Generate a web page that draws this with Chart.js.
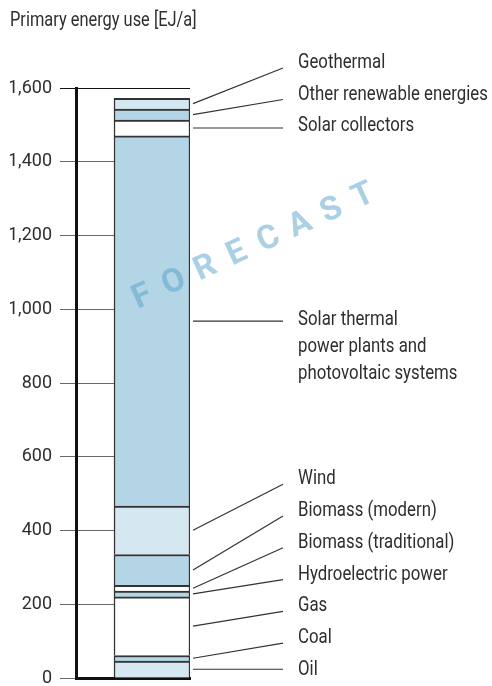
<!DOCTYPE html>
<html>
<head>
<meta charset="utf-8">
<title>Primary energy use</title>
<script src="https://cdn.jsdelivr.net/npm/chart.js@4.4.1/dist/chart.umd.min.js"></script>
<style>
  html, body { margin: 0; padding: 0; background: #fff; }
  #wrap { position: relative; width: 492px; height: 686px; }
</style>
</head>
<body>
<div id="wrap"><canvas id="energyChart"></canvas></div>
<script>
// Primary energy use forecast - one stacked column with labelled segments

// Data (bottom to top)
const sources = [
  'Oil',
  'Coal',
  'Gas',
  'Hydroelectric power',
  'Biomass (traditional)',
  'Biomass (modern)',
  'Wind',
  ['Solar thermal', 'power plants and', 'photovoltaic systems'],
  'Solar collectors',
  'Other renewable energies',
  'Geothermal'
];
const amounts = [46, 15, 159, 16, 15, 84, 131, 1004, 43, 30, 29];
const fills = ['#d5e8f1', '#b3d5e6', '#ffffff', '#b3d5e6', '#ffffff', '#b3d5e6',
               '#d5e8f1', '#b3d5e6', '#ffffff', '#b3d5e6', '#d5e8f1'];
const yTicks = [0, 200, 400, 600, 800, 1000, 1200, 1400, 1600];
const axisTitle = 'Primary energy use [EJ/a]';
const watermark = 'FORECAST';

const FONT = "Roboto, 'Liberation Sans', sans-serif";

// no condensed face installed, so squeeze the text a little
function narrowText(ctx, txt, x, y, sx) {
  ctx.save();
  ctx.translate(x, y);
  ctx.scale(sx, 1);
  ctx.fillText(txt, 0, 0);
  ctx.restore();
}

// Labels, leader lines, title and watermark
const annotations = {
  id: 'annotations',
  afterDatasetsDraw(chart) {
    const { ctx, chartArea: area } = chart;
    ctx.save();

    // watermark
    ctx.save();
    ctx.translate(253, 247);
    ctx.rotate(-24.5 * Math.PI / 180);
    ctx.fillStyle = 'rgba(74, 156, 200, 0.47)';
    ctx.font = "bold 33px " + FONT;
    ctx.textAlign = 'center';
    ctx.textBaseline = 'middle';
    [...watermark].forEach((ch, i) => {
      ctx.fillText(ch, (i - (watermark.length - 1) / 2) * 34.7, 0);
    });
    ctx.restore();

    // axis title
    ctx.fillStyle = '#2e2e2e';
    ctx.textAlign = 'left';
    ctx.textBaseline = 'alphabetic';
    ctx.font = '20px ' + FONT;
    narrowText(ctx, axisTitle, 10, 26, 0.82);

    // segment labels
    const labelX = 298;
    const lineEnd = 283;
    ctx.font = '21px ' + FONT;
    ctx.strokeStyle = '#333';
    ctx.lineWidth = 1.2;
    sources.forEach((name, i) => {
      const el = chart.getDatasetMeta(i).data[0];
      const mid = (el.y + el.base) / 2;
      const right = el.x + el.width / 2 + 3;
      let baseline;
      if (i <= 6) baseline = area.bottom - 3 - i * 31.8;
      else if (i === 7) baseline = mid + 4;
      else baseline = area.top - 20 + (10 - i) * 31.5;

      const endY = Math.abs(baseline - mid) < 9 ? mid : baseline;
      ctx.beginPath();
      ctx.moveTo(right, mid);
      ctx.lineTo(lineEnd, endY);
      ctx.stroke();

      const lines = Array.isArray(name) ? name : [name];
      lines.forEach((txt, k) => narrowText(ctx, txt, labelX, baseline + k * 27, 0.8));
    });

    ctx.restore();
  }
};

const datasets = sources.map((name, i) => ({
  label: Array.isArray(name) ? name.join(' ') : name,
  data: [{ x: 1, y: amounts[i] }],
  backgroundColor: fills[i],
  borderColor: '#333',
  borderWidth: { top: 2, bottom: 0, left: 1.5, right: 1.5 },
  borderSkipped: false,
  barThickness: 76
}));

new Chart(document.getElementById('energyChart'), {
  type: 'bar',
  data: { datasets },
  options: {
    responsive: true,
    maintainAspectRatio: false,
    animation: false,
    layout: { padding: { left: 10, right: 302, top: 88, bottom: 8 } },
    plugins: {
      legend: { display: false },
      tooltip: { enabled: false },
      title: { display: false }
    },
    scales: {
      x: {
        type: 'linear',
        min: 0,
        max: 1.5,
        offset: false,
        stacked: true,
        grid: { display: false, drawTicks: false },
        ticks: { display: false },
        border: { display: true, color: '#111', width: 3 }
      },
      y: {
        min: 0,
        max: 1600,
        stacked: true,
        afterBuildTicks: s => { s.ticks = yTicks.map(v => ({ value: v })); },
        afterFit: s => { s.width = 66; s.paddingTop = 0; s.paddingBottom = 0; },
        grid: {
          color: c => (c.tick && c.tick.value === 1600 ? '#111' : '#6a6a6a'),
          lineWidth: 1,
          tickLength: 16
        },
        border: { display: true, color: '#111', width: 3 },
        ticks: {
          padding: 8,
          color: '#2e2e2e',
          font: { family: FONT, size: 18 },
          callback: v => v.toLocaleString('en-US')
        }
      }
    }
  },
  plugins: [annotations]
});
</script>
</body>
</html>
